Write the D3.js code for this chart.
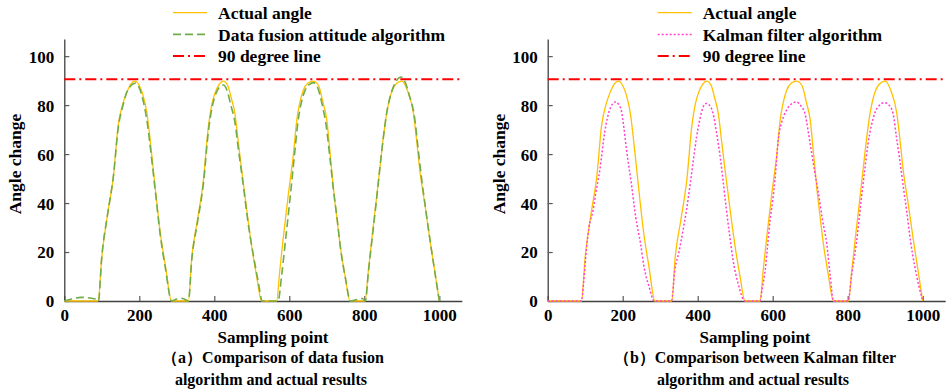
<!DOCTYPE html>
<html><head><meta charset="utf-8">
<script src="https://cdn.jsdelivr.net/npm/d3@7"></script>
<style>body{margin:0;background:#fff}svg{display:block}</style>
</head><body>
<svg id="c" width="952" height="392"></svg>
<script>
// ---------- data ----------
const xTicks = [0, 200, 400, 600, 800, 1000];
const yTicks = [0, 20, 40, 60, 80, 100];
const ninetyLine = 90.6;

const actualX = [0,90,100,115,131,144,155,166,177,188,200,210,220,233,244,255,270,286,
  331,340,355,371,384,393,402,413,424,436,445,455,464,473,490,500,513,526,
  566,575,584,597,611,620,628,637,650,664,678,690,700,709,717,726,735,748,762,
  802,811,822,833,842,851,860,869,884,900,915,931,940,948,962,975,988,1000];
const actualY = [0,0,18,35,51,72,80,85,88.5,89.8,88,84,77,60,44,29,14,0,
  0,18,33,49.5,71,80,85,88.5,89.8,88,83,76.5,65,53.5,33,22,10,0,
  0,13,26,43,60,74,81,86,89,89.8,88,81,74,60,47,35,23.5,11,0,
  0,12.6,28,42.6,55,67,77,83.4,88.5,89.8,86,76.6,65,53.5,39,25,12,0];

const fusionX = [0,20,45,70,88,91,100,115,131,144,155,166,178,190,200,210,220,233,244,255,270,286,
  300,315,331,340,355,371,384,394,405,415,424,434,444,455,465,475,490,505,517,528,
  545,560,566,570,580,590,602,614,623,632,642,654,664,676,688,698,708,718,728,737,750,763,
  780,795,803,811,822,833,842,851,860,870,884,898,910,920,934,943,952,965,978,990,1000];
const fusionY = [0,0.8,1.5,1.2,0.5,0,18,35,51,71,79,85,88,89,87,82,74,58,43,28,13,0,
  0.8,1,0,17,32,48,69,79,85,87.5,88.2,86,80,73,61,50,32,18,8,0,
  0,0,0,0,11,25,42,60,73,81,86,88.5,89.2,87,80,72,59,45,33,21,9,0,
  0.6,1,0,12,27,42,55,67,77,84,89.5,91.5,89,84,75,63,51,36,22,10,0];

const kalmanX = [0,90,96,103,110,121,128,139,152,165,173,181,190,196,203,210,223,235,247,258,270,284,
  330,339,350,361,370,379,388,397,404,410,417,423,431,441,450,459,467,476,485,494,508,526,
  566,572,580,586,593,600,606,615,626,637,650,664,676,686,695,704,713,722,733,744,753,762,
  801,810,823,837,845,854,863,872,885,898,910,921,930,939,948,957,968,979,990,1000];
const kalmanY = [0,0,8,21,30,37,44,53.5,69,78,80.5,81.3,80,78,71,62,48,34,24,13,6,0,
  0,12.6,20,29,37,46.7,57,67,73,77,80,80.7,80,76.6,69,60,50,38,27,17,7,0,
  0,5,12.6,22,33,41,49.4,66,74,78,80.5,81.3,79.5,76.6,69,60.3,52,44,33,23.5,11,0,
  0,10,23.5,42.6,53,64,71.5,76.6,80,81,80,76.6,67,57.5,47,37,24,14,6,0];

const FONT = "'Liberation Serif', 'DejaVu Serif', 'Noto Serif', serif";

const panels = [
  {x0:64.3, label:"Data fusion attitude algorithm", cmpX:fusionX, cmpY:fusionY, color:"#70AD47", dash:"8,4", width:1.6,
   cap1:"（a）Comparison of data fusion", cap2:"algorithm and actual results", yLabX:15, legLine:173, cx:273},
  {x0:547.7, label:"Kalman filter algorithm", cmpX:kalmanX, cmpY:kalmanY, color:"#FF40D0", dash:"2,2", width:1.5,
   cap1:"（b）Comparison between Kalman filter", cap2:"algorithm and actual results", yLabX:499, legLine:657.7, cx:755}
];

const svg = d3.select("#c");
const yTop = 39, yBot = 301;

function txt(sel, size) {
  return sel.attr("font-family", FONT).style("font-family", FONT).attr("font-weight","bold")
    .style("font-weight","bold").style("font-size", size + "px").attr("fill","#000");
}

panels.forEach(p => {
  const x = d3.scaleLinear().domain([0,1060]).range([p.x0, p.x0 + 1060*0.375]);
  const y = d3.scaleLinear().domain([0,107]).range([yBot, yTop]);
  const g = svg.append("g");

  // axes
  const xa = g.append("g").attr("transform",`translate(0,${yBot})`)
    .call(d3.axisBottom(x).tickValues(xTicks).tickFormat(d3.format("d")).tickSize(-5).tickPadding(8).tickSizeOuter(0));
  const ya = g.append("g").attr("transform",`translate(${p.x0},0)`)
    .call(d3.axisLeft(y).tickValues(yTicks).tickFormat(d3.format("d")).tickSize(-5).tickPadding(10).tickSizeOuter(0));
  [xa, ya].forEach(a => {
    a.attr("font-family", FONT);
    a.select(".domain").attr("stroke","#404040").attr("stroke-width",1.3);
    a.selectAll(".tick line").attr("stroke","#595959").attr("stroke-width",1.2);
    txt(a.selectAll(".tick text"), 17);
  });
  xa.selectAll(".tick text").attr("dy","0.71em");
  ya.selectAll(".tick text").attr("dy","0.35em");

  const line = (xs, ys) => d3.line().x((d,i)=>x(xs[i])).y((d,i)=>y(ys[i])).curve(d3.curveMonotoneX)(xs);

  // 90 degree line
  g.append("line").attr("x1",p.x0).attr("x2",p.x0+1060*0.375).attr("y1",y(ninetyLine)).attr("y2",y(ninetyLine))
    .attr("stroke","#FF0000").attr("stroke-width",2).attr("stroke-dasharray","11,4,2,4");
  // actual
  g.append("path").attr("d",line(actualX,actualY)).attr("fill","none").attr("stroke","#FFC000").attr("stroke-width",1.3);
  // comparison
  g.append("path").attr("d",line(p.cmpX,p.cmpY)).attr("fill","none").attr("stroke",p.color)
    .attr("stroke-width",p.width).attr("stroke-dasharray",p.dash);

  // legend
  const leg = [
    {t:"Actual angle", c:"#FFC000", d:null, w:1.3},
    {t:p.label, c:p.color, d:p.dash, w:p.width},
    {t:"90 degree line", c:"#FF0000", d:"11,4,2,4", w:2}
  ];
  leg.forEach((l,i) => {
    const yy = 12.7 + i*21.7;
    g.append("line").attr("x1",p.legLine).attr("x2",p.legLine+34).attr("y1",yy).attr("y2",yy)
      .attr("stroke",l.c).attr("stroke-width",l.w).attr("stroke-dasharray",l.d);
    txt(g.append("text").attr("x",p.legLine+45).attr("y",yy).attr("dy","0.35em"), 17.5).text(l.t);
  });

  // labels
  txt(g.append("text").attr("transform",`translate(${p.yLabX},164) rotate(-90)`).attr("text-anchor","middle")
    .attr("dy","0.35em"), 17.5).text("Angle change");
  txt(g.append("text").attr("x",p.cx).attr("y",343).attr("text-anchor","middle"), 17).text("Sampling point");
  txt(g.append("text").attr("x",p.cx).attr("y",363).attr("text-anchor","middle"), 16).text(p.cap1);
  txt(g.append("text").attr("x",p.cx - 2).attr("y",385).attr("text-anchor","middle"), 16).text(p.cap2);
});
</script>
</body></html>
